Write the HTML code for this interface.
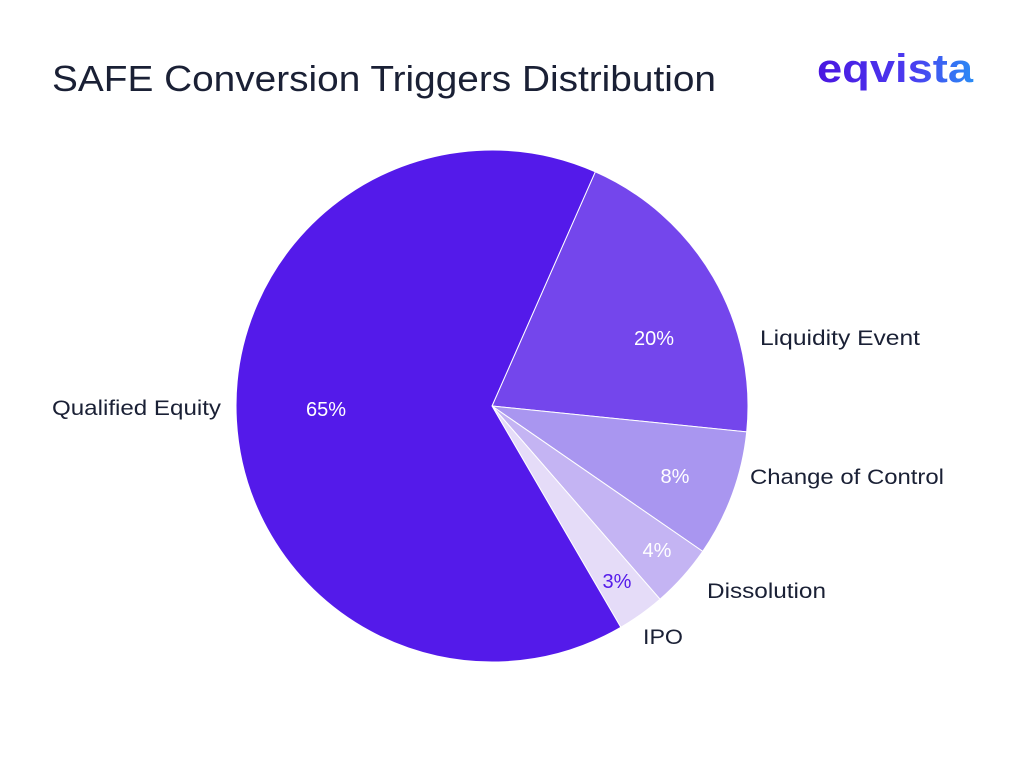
<!DOCTYPE html>
<html><head><meta charset="utf-8"><style>
body{margin:0;width:1024px;height:773px;background:#fff;overflow:hidden}
</style></head><body>
<svg width="1024" height="773" viewBox="0 0 1024 773" xmlns="http://www.w3.org/2000/svg" font-family="Liberation Sans, sans-serif">
<defs><linearGradient id="g" x1="0" x2="1"><stop offset="0" stop-color="#4a16e0"/><stop offset="0.6" stop-color="#4b3cf0"/><stop offset="1" stop-color="#2a8cf5"/></linearGradient></defs>
<text x="52" y="91" font-size="36" fill="#1a2035" textLength="664" lengthAdjust="spacingAndGlyphs">SAFE Conversion Triggers Distribution</text>
<text x="817" y="82" font-size="40" font-weight="bold" fill="url(#g)" textLength="156" lengthAdjust="spacingAndGlyphs">eqvista</text>
<g stroke="#fff" stroke-width="1">
<path d="M492,406 L595.3,171.8 A256,256 0 0 1 746.7,431.9 Z" fill="#7446ec"/>
<path d="M492,406 L746.7,431.9 A256,256 0 0 1 702.7,551.4 Z" fill="#a996f0"/>
<path d="M492,406 L702.7,551.4 A256,256 0 0 1 660,599.2 Z" fill="#c4b4f3"/>
<path d="M492,406 L660,599.2 A256,256 0 0 1 620.8,627.3 Z" fill="#e5dcf8"/>
<path d="M492,406 L620.8,627.3 A256,256 0 1 1 595.3,171.8 Z" fill="#541aea"/>
</g>
<g font-size="20" fill="#fff" text-anchor="middle">
<text x="326" y="416">65%</text>
<text x="654" y="345">20%</text>
<text x="675" y="483">8%</text>
<text x="657" y="557">4%</text>
<text x="617" y="588" fill="#541aea">3%</text>
</g>
<g font-size="21" fill="#1a2035">
<text x="52" y="415" textLength="169" lengthAdjust="spacingAndGlyphs">Qualified Equity</text>
<text x="760" y="345" textLength="160" lengthAdjust="spacingAndGlyphs">Liquidity Event</text>
<text x="750" y="484" textLength="194" lengthAdjust="spacingAndGlyphs">Change of Control</text>
<text x="707" y="598" textLength="119" lengthAdjust="spacingAndGlyphs">Dissolution</text>
<text x="643" y="644" textLength="40" lengthAdjust="spacingAndGlyphs">IPO</text>
</g>
</svg>
</body></html>
